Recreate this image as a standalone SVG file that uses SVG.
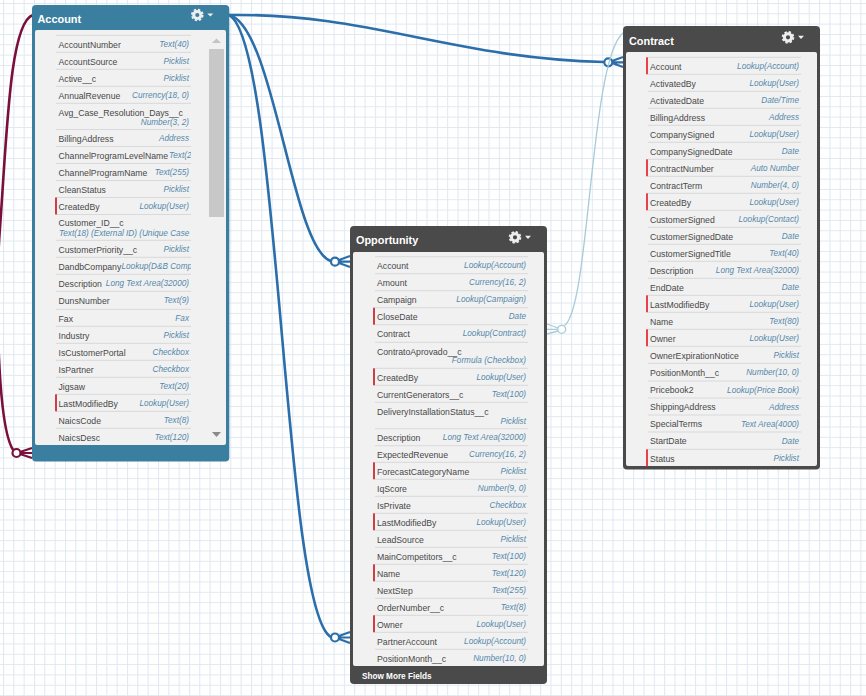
<svg xmlns="http://www.w3.org/2000/svg" xmlns:xlink="http://www.w3.org/1999/xlink" width="866" height="696" viewBox="0 0 866 696">
<style>
text{font-family:"Liberation Sans",Arial,sans-serif}
.n{font-size:8.7px;fill:#484848}
.t{font-size:8.2px;font-style:italic;fill:#5488ab;text-anchor:end}
.ts{font-size:8.2px;font-style:italic;fill:#5488ab}
.h{font-size:10.9px;font-weight:bold;fill:#fff}
.m{font-size:8.2px;font-weight:bold;fill:#fff}
.panel{fill:#f1f1f1}
.sep{fill:none;stroke:#d9d9d9;stroke-width:1}
.red{fill:#cc3f47}
.fk{fill:none;stroke-width:2.6;stroke-linecap:round}
.b{stroke:#2b6eaa}
.mr{stroke:#7a0f3c}
.l{stroke:#a8cbd8;stroke-width:1.3}
.o{fill:#fff}
.fan{fill:none;stroke-width:2.2}
</style>
<defs>
<pattern id="grid" width="10.33" height="10.33" patternUnits="userSpaceOnUse" x="3" y="3">
<path d="M0.5 0V10.33M0 0.5H10.33" fill="none" stroke="#dfe8f1" stroke-width="1.1"/>
</pattern>
<clipPath id="acClip"><rect x="35" y="30" width="156" height="415"/></clipPath>
<g id="gear">
<circle r="3.6" fill="none" stroke="#eee" stroke-width="3"/>
<circle r="5.4" fill="none" stroke="#eee" stroke-width="1.8" stroke-dasharray="2.4 1.84"/>
<path d="M10 -1.6H16L13 1.6Z" fill="#eee"/>
</g>
</defs>
<rect width="866" height="696" fill="#fff"/>
<rect width="866" height="696" fill="url(#grid)"/>

<g id="connectors">
<path class="fk mr" d="M33 15C10 22 7 130 0 228C-5 290 -3 440 16 453"/>
<circle class="o mr" cx="16.500" cy="453" r="4" stroke-width="2.200" fill="#fff"/>
<path class="fan mr" d="M20 452L32 448M20.500 453H32M20 454L32 458"/>
<path class="fk b" d="M229 15C370 13 450 58 604 62"/>
<circle class="o b" cx="608.300" cy="62.300" r="4" stroke-width="2.200"/>
<path class="fan b" d="M612 61L623 57M612.300 62.300H623M612 63L623 67"/>
<path class="fk b" d="M229 15C274 25 292 250 331 261"/>
<circle class="o b" cx="335" cy="261.700" r="4" stroke-width="2.200"/>
<path class="fan b" d="M339 260L350 256M339 261.700H350M339 263L350 267"/>
<path class="fk b" d="M229 15C280 40 283 612 331 637"/>
<circle class="o b" cx="335" cy="637.500" r="4" stroke-width="2.200"/>
<path class="fan b" d="M339 636L350 632M339 637.500H350M339 639L350 643"/>
<path class="fk l" d="M565 325C590 305 590 60 623 33"/>
<circle class="o l" cx="561.700" cy="329.300" r="4" stroke-width="1.300"/>
<path class="fan l" style="stroke-width:1.300" d="M558 328L547 324M557.700 329.300H547M558 331L547 334"/>
</g>

<g id="node-account">
<rect x="32" y="5" width="197.300" height="456.500" rx="4" fill="#3a7fa0"/>
<rect class="panel" x="35" y="30" width="191" height="415" rx="2"/>
<text class="h" x="37.500" y="23">Account</text>
<use xlink:href="#gear" href="#gear" x="197.300" y="15"/>
<path class="sep" d="M56 35.300H191M56 52.300H191M56 69.300H191M56 86.300H191M56 103.300H191M56 129.500H191M56 146.500H191M56 163.500H191M56 180.500H191M56 197.500H191M56 214.500H191M56 240.300H191M56 257.300H191M56 274.300H191M56 291.300H191M56 309.300H191M56 326.300H191M56 343.300H191M56 360.300H191M56 377.300H191M56 394.300H191M56 411.300H191M56 428.300H191"/>
<rect class="red" x="55" y="197.500" width="2" height="17"/>
<rect class="red" x="55" y="394.300" width="2" height="17"/>
<rect x="209" y="49" width="15" height="168" fill="#c8c8c8"/>
<path d="M212 43L216.500 38.500L221 43Z" fill="#c4c4c4"/>
<path d="M212 432H221L216.500 437Z" fill="#8a8a8a"/>
<g clip-path="url(#acClip)">
<text class="n" x="58.500" y="47.700">AccountNumber</text><text class="t" x="189" y="47">Text(40)</text>
<text class="n" x="58.500" y="64.700">AccountSource</text><text class="t" x="189" y="64">Picklist</text>
<text class="n" x="58.500" y="81.700">Active__c</text><text class="t" x="189" y="81">Picklist</text>
<text class="n" x="58.500" y="98.700">AnnualRevenue</text><text class="t" x="189" y="98">Currency(18, 0)</text>
<text class="n" x="58.500" y="115.700">Avg_Case_Resolution_Days__c</text><text class="t" x="189" y="125">Number(3, 2)</text>
<text class="n" x="58.500" y="141.900">BillingAddress</text><text class="t" x="189" y="141">Address</text>
<text class="n" x="58.500" y="158.900">ChannelProgramLevelName</text><text class="ts" x="169" y="158">Text(255)</text>
<text class="n" x="58.500" y="175.900">ChannelProgramName</text><text class="t" x="189" y="175">Text(255)</text>
<text class="n" x="58.500" y="192.900">CleanStatus</text><text class="t" x="189" y="192">Picklist</text>
<text class="n" x="58.500" y="209.900">CreatedBy</text><text class="t" x="189" y="209">Lookup(User)</text>
<text class="n" x="58.500" y="226">Customer_ID__c</text><text class="ts" x="59" y="235.700">Text(18) (External ID) (Unique Case Sensitive)</text>
<text class="n" x="58.500" y="252.700">CustomerPriority__c</text><text class="t" x="189" y="252">Picklist</text>
<text class="n" x="58.500" y="269.700">DandbCompany</text><text class="ts" x="121.500" y="269">Lookup(D&amp;B Company)</text>
<text class="n" x="58.500" y="286.700">Description</text><text class="t" x="189" y="286">Long Text Area(32000)</text>
<text class="n" x="58.500" y="303.700">DunsNumber</text><text class="t" x="189" y="303">Text(9)</text>
<text class="n" x="58.500" y="321.700">Fax</text><text class="t" x="189" y="321">Fax</text>
<text class="n" x="58.500" y="338.700">Industry</text><text class="t" x="189" y="338">Picklist</text>
<text class="n" x="58.500" y="355.700">IsCustomerPortal</text><text class="t" x="189" y="355">Checkbox</text>
<text class="n" x="58.500" y="372.700">IsPartner</text><text class="t" x="189" y="372">Checkbox</text>
<text class="n" x="58.500" y="389.700">Jigsaw</text><text class="t" x="189" y="389">Text(20)</text>
<text class="n" x="58.500" y="406.700">LastModifiedBy</text><text class="t" x="189" y="406">Lookup(User)</text>
<text class="n" x="58.500" y="423.700">NaicsCode</text><text class="t" x="189" y="423">Text(8)</text>
<text class="n" x="58.500" y="440.700">NaicsDesc</text><text class="t" x="189" y="440">Text(120)</text>
</g>
</g>

<g id="node-opportunity">
<rect x="350" y="226" width="197" height="458" rx="4" fill="#4a4a4a"/>
<rect class="panel" x="353" y="252" width="191" height="414" rx="2"/>
<text class="h" x="356" y="244">Opportunity</text>
<use xlink:href="#gear" href="#gear" x="515" y="237.300"/>
<path class="sep" d="M375 256.700H528M375 273.700H528M375 290.700H528M375 307.700H528M375 324.700H528M375 342.300H528M375 368.300H528M375 385.300H528M375 402.300H528M375 428.700H528M375 445.700H528M375 462.300H528M375 479.300H528M375 496.300H528M375 513.300H528M375 530.300H528M375 547.300H528M375 564.300H528M375 581.300H528M375 598.300H528M375 615.300H528M375 632.300H528M375 649.300H528"/>
<rect class="red" x="373" y="307.700" width="2" height="17"/>
<rect class="red" x="373" y="368.300" width="2" height="17"/>
<rect class="red" x="373" y="462.300" width="2" height="17"/>
<rect class="red" x="373" y="513.300" width="2" height="17"/>
<rect class="red" x="373" y="564.300" width="2" height="17"/>
<rect class="red" x="373" y="615.300" width="2" height="17"/>
<text class="n" x="377" y="269">Account</text><text class="t" x="526" y="268">Lookup(Account)</text>
<text class="n" x="377" y="286">Amount</text><text class="t" x="526" y="285">Currency(16, 2)</text>
<text class="n" x="377" y="303">Campaign</text><text class="t" x="526" y="302">Lookup(Campaign)</text>
<text class="n" x="377" y="320">CloseDate</text><text class="t" x="526" y="319">Date</text>
<text class="n" x="377" y="337">Contract</text><text class="t" x="526" y="336">Lookup(Contract)</text>
<text class="n" x="377" y="354.700">ContratoAprovado__c</text><text class="t" x="526" y="363.300">Formula (Checkbox)</text>
<text class="n" x="377" y="380.700">CreatedBy</text><text class="t" x="526" y="380">Lookup(User)</text>
<text class="n" x="377" y="397.700">CurrentGenerators__c</text><text class="t" x="526" y="397">Text(100)</text>
<text class="n" x="377" y="414.700">DeliveryInstallationStatus__c</text><text class="t" x="526" y="424">Picklist</text>
<text class="n" x="377" y="441">Description</text><text class="t" x="526" y="440">Long Text Area(32000)</text>
<text class="n" x="377" y="458">ExpectedRevenue</text><text class="t" x="526" y="457">Currency(16, 2)</text>
<text class="n" x="377" y="474.700">ForecastCategoryName</text><text class="t" x="526" y="474">Picklist</text>
<text class="n" x="377" y="491.700">IqScore</text><text class="t" x="526" y="491">Number(9, 0)</text>
<text class="n" x="377" y="508.700">IsPrivate</text><text class="t" x="526" y="508">Checkbox</text>
<text class="n" x="377" y="525.700">LastModifiedBy</text><text class="t" x="526" y="525">Lookup(User)</text>
<text class="n" x="377" y="542.700">LeadSource</text><text class="t" x="526" y="542">Picklist</text>
<text class="n" x="377" y="559.700">MainCompetitors__c</text><text class="t" x="526" y="559">Text(100)</text>
<text class="n" x="377" y="576.700">Name</text><text class="t" x="526" y="576">Text(120)</text>
<text class="n" x="377" y="593.700">NextStep</text><text class="t" x="526" y="593">Text(255)</text>
<text class="n" x="377" y="610.700">OrderNumber__c</text><text class="t" x="526" y="610">Text(8)</text>
<text class="n" x="377" y="627.700">Owner</text><text class="t" x="526" y="627">Lookup(User)</text>
<text class="n" x="377" y="644.700">PartnerAccount</text><text class="t" x="526" y="644">Lookup(Account)</text>
<text class="n" x="377" y="661.700">PositionMonth__c</text><text class="t" x="526" y="661">Number(10, 0)</text>
<text class="m" x="362" y="678.600">Show More Fields</text>
</g>

<g id="node-contract">
<rect x="623" y="26" width="197" height="443.500" rx="4" fill="#4a4a4a"/>
<rect class="panel" x="626" y="52" width="191" height="414" rx="2"/>
<text class="h" x="629" y="45">Contract</text>
<use xlink:href="#gear" href="#gear" x="788" y="37.300"/>
<path class="sep" d="M648 57.300H801M648 74.300H801M648 91.300H801M648 108.300H801M648 125.300H801M648 142.300H801M648 159.300H801M648 176.300H801M648 193.300H801M648 210.300H801M648 227.300H801M648 244.300H801M648 261.300H801M648 278.300H801M648 295.300H801M648 312.300H801M648 329.300H801M648 346.300H801M648 363.300H801M648 381H801M648 398H801M648 415H801M648 432H801M648 449.300H801"/>
<g style="fill:#e8414a">
<rect x="646" y="57.300" width="2" height="17"/>
<rect x="646" y="159.300" width="2" height="17"/>
<rect x="646" y="193.300" width="2" height="17"/>
<rect x="646" y="295.300" width="2" height="17"/>
<rect x="646" y="329.300" width="2" height="17"/>
<rect x="646" y="449.300" width="2" height="17"/>
</g>
<text class="n" x="650" y="69.700">Account</text><text class="t" x="799" y="69">Lookup(Account)</text>
<text class="n" x="650" y="86.700">ActivatedBy</text><text class="t" x="799" y="86">Lookup(User)</text>
<text class="n" x="650" y="103.700">ActivatedDate</text><text class="t" x="799" y="103">Date/Time</text>
<text class="n" x="650" y="120.700">BillingAddress</text><text class="t" x="799" y="120">Address</text>
<text class="n" x="650" y="137.700">CompanySigned</text><text class="t" x="799" y="137">Lookup(User)</text>
<text class="n" x="650" y="154.700">CompanySignedDate</text><text class="t" x="799" y="154">Date</text>
<text class="n" x="650" y="171.700">ContractNumber</text><text class="t" x="799" y="171">Auto Number</text>
<text class="n" x="650" y="188.700">ContractTerm</text><text class="t" x="799" y="188">Number(4, 0)</text>
<text class="n" x="650" y="205.700">CreatedBy</text><text class="t" x="799" y="205">Lookup(User)</text>
<text class="n" x="650" y="222.700">CustomerSigned</text><text class="t" x="799" y="222">Lookup(Contact)</text>
<text class="n" x="650" y="239.700">CustomerSignedDate</text><text class="t" x="799" y="239">Date</text>
<text class="n" x="650" y="256.700">CustomerSignedTitle</text><text class="t" x="799" y="256">Text(40)</text>
<text class="n" x="650" y="273.700">Description</text><text class="t" x="799" y="273">Long Text Area(32000)</text>
<text class="n" x="650" y="290.700">EndDate</text><text class="t" x="799" y="290">Date</text>
<text class="n" x="650" y="307.700">LastModifiedBy</text><text class="t" x="799" y="307">Lookup(User)</text>
<text class="n" x="650" y="324.700">Name</text><text class="t" x="799" y="324">Text(80)</text>
<text class="n" x="650" y="341.700">Owner</text><text class="t" x="799" y="341">Lookup(User)</text>
<text class="n" x="650" y="358.700">OwnerExpirationNotice</text><text class="t" x="799" y="358">Picklist</text>
<text class="n" x="650" y="375.700">PositionMonth__c</text><text class="t" x="799" y="375">Number(10, 0)</text>
<text class="n" x="650" y="393.300">Pricebook2</text><text class="t" x="799" y="393">Lookup(Price Book)</text>
<text class="n" x="650" y="410.300">ShippingAddress</text><text class="t" x="799" y="410">Address</text>
<text class="n" x="650" y="427.300">SpecialTerms</text><text class="t" x="799" y="427">Text Area(4000)</text>
<text class="n" x="650" y="444.300">StartDate</text><text class="t" x="799" y="444">Date</text>
<text class="n" x="650" y="461.700">Status</text><text class="t" x="799" y="461">Picklist</text>
</g>
</svg>
